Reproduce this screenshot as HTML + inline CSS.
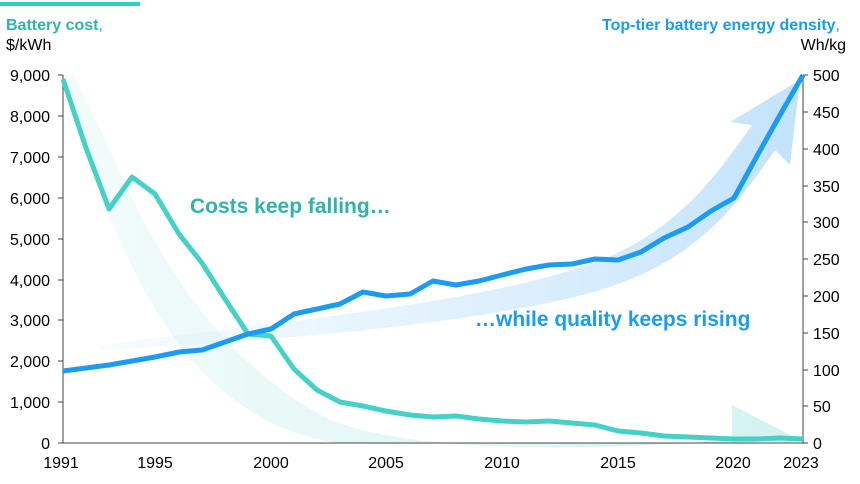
<!DOCTYPE html><html><head><style>body{margin:0;background:#fff}svg{display:block;font-family:"Liberation Sans",Arial,sans-serif}</style></head><body>
<svg width="860" height="484" viewBox="0 0 860 484">
<defs>
<linearGradient id="gb" x1="0" y1="0" x2="1" y2="0"><stop offset="0" stop-color="#d8edfc" stop-opacity="0.2"/><stop offset="1" stop-color="#c2e3fb"/></linearGradient>
<linearGradient id="gt" x1="0" y1="0" x2="1" y2="0"><stop offset="0" stop-color="#d4f3f1" stop-opacity="0.3"/><stop offset="1" stop-color="#d2f2f0"/></linearGradient>
</defs>
<rect x="0" y="2" width="140" height="4" fill="#2ccfc6"/>
<text x="6" y="30" font-size="16" font-weight="bold" fill="#2fb3ab">Battery cost<tspan font-weight="normal">,</tspan></text>
<text x="6" y="50" font-size="16" fill="#000">$/kWh</text>
<text x="840" y="30" font-size="16" font-weight="bold" fill="#1a9cf0" text-anchor="end">Top-tier battery energy density<tspan font-weight="normal">,</tspan></text>
<text x="846" y="50" font-size="16" fill="#000" text-anchor="end">Wh/kg</text>
<path d="M72,75 C120,150 160,330 330,420 C420,455 600,450 732,440 L732,405 L800,440 L740,440 L800,440 L732,443 L340,443 C160,420 100,200 68,80 Z" fill="url(#gt)"/>
<path d="M100,345 C300,320 500,300 600,260 C680,230 720,170 752,125 L730,122 L800,80 L790,165 L775,150 C740,200 700,260 600,290 C500,320 300,340 100,350 Z" fill="url(#gb)"/>
<g stroke="#444" stroke-width="1" fill="none">
<path d="M63,75 V443 H803 V75"/>
<path d="M58,75H63M58,116H63M58,157H63M58,198H63M58,239H63M58,280H63M58,320H63M58,361H63M58,402H63M58,443H63"/>
<path d="M803,75H808M803,112H808M803,149H808M803,186H808M803,222H808M803,259H808M803,296H808M803,333H808M803,370H808M803,406H808M803,443H808"/>
</g>
<g font-size="16" fill="#000" text-anchor="end">
<text x="50" y="81">9,000</text><text x="50" y="122">8,000</text><text x="50" y="163">7,000</text><text x="50" y="204">6,000</text><text x="50" y="245">5,000</text><text x="50" y="286">4,000</text><text x="50" y="326">3,000</text><text x="50" y="367">2,000</text><text x="50" y="408">1,000</text><text x="50" y="449">0</text>
</g>
<g font-size="16" fill="#000">
<text x="813" y="81">500</text><text x="813" y="118">450</text><text x="813" y="155">400</text><text x="813" y="192">350</text><text x="813" y="228">300</text><text x="813" y="265">250</text><text x="813" y="302">200</text><text x="813" y="339">150</text><text x="813" y="376">100</text><text x="813" y="412">50</text><text x="813" y="449">0</text>
</g>
<g font-size="16" fill="#000" text-anchor="middle">
<text x="61" y="468">1991</text><text x="155" y="468">1995</text><text x="271" y="468">2000</text><text x="386" y="468">2005</text><text x="502" y="468">2010</text><text x="618" y="468">2015</text><text x="733" y="468">2020</text><text x="801" y="468">2023</text>
</g>
<polyline fill="none" stroke="#45d0c8" stroke-width="5" stroke-linejoin="round" points="63,79 86,148 109,209 132,177 155,194 179,234 202,263 225,299 248,334 271,336 294,369 317,390 340,402 363,406 386,411 410,415 433,417 456,416 479,419 502,421 526,422 549,421 572,423 595,425 618,431 641,433 664,436 688,437 711,438 734,439 757,439 780,438 803,439"/>
<polyline fill="none" stroke="#1a9cf5" stroke-width="5" stroke-linejoin="round" points="63,371 86,368 109,365 132,361 155,357 179,352 202,350 225,342 248,334 271,329 294,314 317,309 340,304 363,292 386,296 410,294 433,281 456,285 479,281 502,275 526,269 549,265 572,264 595,259 618,260 641,252 664,238 688,227 711,211 734,198 757,156 780,115 803,75"/>
<text x="190" y="213" font-size="21" font-weight="bold" fill="#2fb3ab">Costs keep falling…</text>
<text x="475" y="326" font-size="21" font-weight="bold" fill="#1a9cf0">…while quality keeps rising</text>
</svg>
</body></html>
